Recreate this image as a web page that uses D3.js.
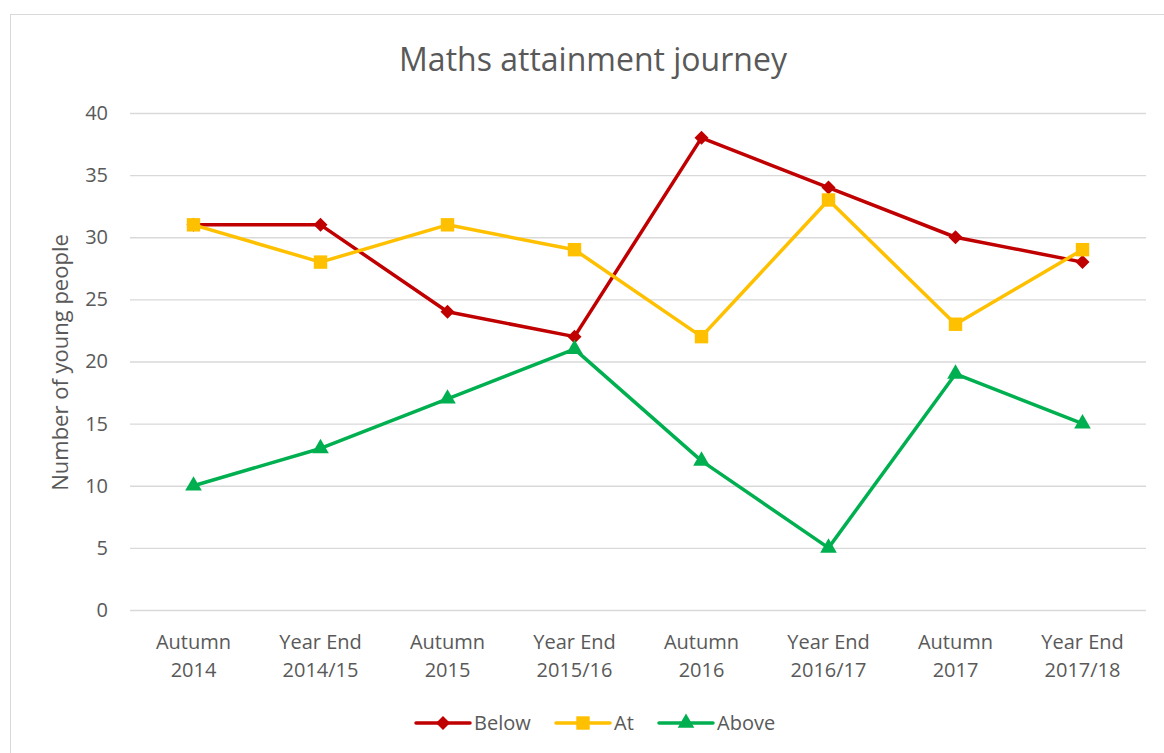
<!DOCTYPE html>
<html>
<head>
<meta charset="utf-8">
<script src="https://cdn.jsdelivr.net/npm/d3@7"></script>
<style>
  body { margin: 0; background: #fff; }
  svg { display: block; font-family: "Open Sans", "Noto Sans", sans-serif; }
</style>
</head>
<body>
<div id="chart"></div>
<script>
// data
const categories = [
  ["Autumn", "2014"], ["Year End", "2014/15"], ["Autumn", "2015"], ["Year End", "2015/16"],
  ["Autumn", "2016"], ["Year End", "2016/17"], ["Autumn", "2017"], ["Year End", "2017/18"]
];
const below = [31, 31, 24, 22, 38, 34, 30, 28];
const at = [31, 28, 31, 29, 22, 33, 23, 29];
const above = [10, 13, 17, 21, 12, 5, 19, 15];
const yTicks = [0, 5, 10, 15, 20, 25, 30, 35, 40];

const series = [
  { name: "Below", values: below, color: "#C00000", symbol: d3.symbolDiamond2, size: 125 },
  { name: "At", values: at, color: "#FFC000", symbol: d3.symbolSquare, size: 180 },
  { name: "Above", values: above, color: "#00B050", symbol: d3.symbolTriangle, size: 120 }
];

const width = 1164, height = 753;
const margin = { top: 113, right: 18, bottom: 143, left: 130 };

const svg = d3.select("#chart").append("svg")
  .attr("width", width)
  .attr("height", height);

// chart frame
svg.append("rect")
  .attr("x", 10.5).attr("y", 14.5)
  .attr("width", width).attr("height", height)
  .attr("fill", "#fff")
  .attr("stroke", "#d9d9d9");

const x = d3.scaleBand()
  .domain(d3.range(categories.length))
  .range([margin.left, width - margin.right]);

const y = d3.scaleLinear()
  .domain([0, 40])
  .range([height - margin.bottom, margin.top]);

// gridlines
svg.append("g")
  .attr("transform", `translate(${margin.left},0)`)
  .call(d3.axisLeft(y).tickValues(yTicks).tickSize(-(width - margin.left - margin.right)).tickFormat(""))
  .call(g => g.select(".domain").remove())
  .call(g => g.selectAll("line").attr("stroke", "#d9d9d9").attr("stroke-width", 1.3));

// y tick labels
svg.append("g")
  .attr("transform", `translate(${margin.left},0)`)
  .call(d3.axisLeft(y).tickValues(yTicks).tickSize(0).tickPadding(22))
  .call(g => g.select(".domain").remove())
  .call(g => g.selectAll("text")
    .attr("fill", "#595959")
    .style("font-size", "20px")
    .style("font-family", "'Open Sans', sans-serif"));

// x tick labels (two lines)
const xLabels = svg.append("g");
categories.forEach((c, i) => {
  const t = xLabels.append("text")
    .attr("x", x(i) + x.bandwidth() / 2)
    .attr("y", height - margin.bottom + 39)
    .attr("text-anchor", "middle")
    .attr("fill", "#595959")
    .style("font-size", "20px");
  t.append("tspan").attr("x", x(i) + x.bandwidth() / 2).text(c[0]);
  t.append("tspan").attr("x", x(i) + x.bandwidth() / 2).attr("dy", 28).text(c[1]);
});

// y axis title
svg.append("text")
  .attr("transform", `translate(68,${(y(0) + y(40)) / 2 + 1}) rotate(-90)`)
  .attr("text-anchor", "middle")
  .attr("fill", "#595959")
  .style("font-size", "22px")
  .text("Number of young people");

// title
svg.append("text")
  .attr("x", 593)
  .attr("y", 71)
  .attr("text-anchor", "middle")
  .attr("fill", "#595959")
  .style("font-size", "32px")
  .text("Maths attainment journey");

const line = d3.line()
  .x((d, i) => x(i) + x.bandwidth() / 2)
  .y(d => y(d));

series.forEach(s => {
  const g = svg.append("g");
  g.append("path")
    .datum(s.values)
    .attr("d", line)
    .attr("fill", "none")
    .attr("stroke", s.color)
    .attr("stroke-width", 3.5)
    .attr("stroke-linejoin", "round");
  g.selectAll("path.marker")
    .data(s.values)
    .enter()
    .append("path")
    .attr("class", "marker")
    .attr("transform", (d, i) => `translate(${x(i) + x.bandwidth() / 2},${y(d)})`)
    .attr("d", d3.symbol().type(s.symbol).size(s.size))
    .attr("fill", s.color);
});

// legend
const legendItems = [
  { s: series[0], x: 416 },
  { s: series[1], x: 556 },
  { s: series[2], x: 659 }
];
const legend = svg.append("g").attr("transform", "translate(0,723)");
legendItems.forEach(({ s, x: lx }) => {
  legend.append("line")
    .attr("x1", lx).attr("x2", lx + 54)
    .attr("stroke", s.color).attr("stroke-width", 3.5)
    .attr("stroke-linecap", "round");
  legend.append("path")
    .attr("transform", `translate(${lx + 27},0)`)
    .attr("d", d3.symbol().type(s.symbol).size(s.size))
    .attr("fill", s.color);
  legend.append("text")
    .attr("x", lx + 58)
    .attr("y", 7)
    .attr("fill", "#595959")
    .style("font-size", "20px")
    .text(s.name);
});
</script>
</body>
</html>
